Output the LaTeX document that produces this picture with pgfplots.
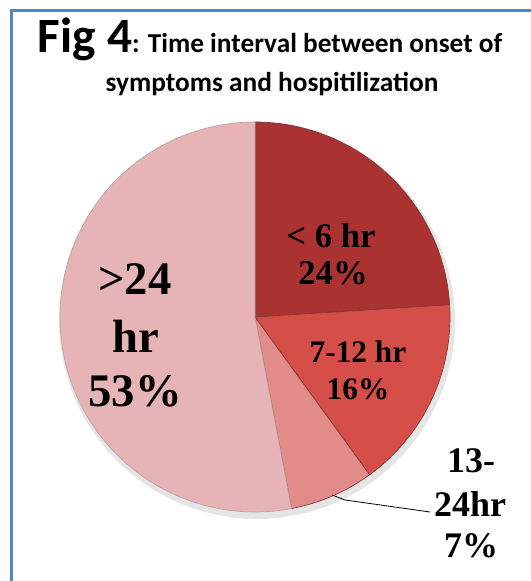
\documentclass[border=0pt]{standalone}
\usepackage{pgfplots}
\pgfplotsset{compat=1.18}
\usepackage{fontspec}
\setmainfont{Liberation Serif}
\newfontfamily\titlefont{Carlito}

\definecolor{frameblue}{RGB}{74,134,200}
\definecolor{sliceA}{RGB}{170,50,49}
\definecolor{sliceB}{RGB}{214,78,72}
\definecolor{sliceC}{RGB}{226,140,138}
\definecolor{sliceD}{RGB}{230,180,182}
\definecolor{sliceedge}{RGB}{125,55,55}

% shares (percent), clockwise from twelve o'clock
\def\vA{24}  % < 6 hr
\def\vB{16}  % 7-12 hr
\def\vC{7}   % 13-24 hr
\def\vD{53}  % > 24 hr

% pie centre and radius in axis units
\def\cx{255}
\def\cy{264}
\def\R{195}

\pgfmathsetmacro{\aA}{90}
\pgfmathsetmacro{\aB}{\aA-3.6*\vA}
\pgfmathsetmacro{\aC}{\aB-3.6*\vB}
\pgfmathsetmacro{\aD}{\aC-3.6*\vC}
\pgfmathsetmacro{\aE}{\aD-3.6*\vD}

\begin{document}
\begin{tikzpicture}
\begin{axis}[
  width=398.25pt, height=435.75pt, scale only axis,
  xmin=0, xmax=531, ymin=0, ymax=581,
  enlargelimits=false,
  axis lines=none, clip=false,
]
% soft shadow under the pie
\addplot[draw=none, fill=black, fill opacity=0.10, domain=0:360, samples=120, variable=\t]
  ({\cx+2+(\R+3)*cos(\t)}, {\cy-4+(\R+3)*sin(\t)}) -- cycle;

% slices
\addplot[fill=sliceA, draw=sliceedge, line width=0.5pt, domain=\aB:\aA, samples=80, variable=\t]
  ({\cx+\R*cos(\t)}, {\cy+\R*sin(\t)}) -- (axis cs:\cx,\cy) -- cycle;
\addplot[fill=sliceB, draw=sliceedge, line width=0.5pt, domain=\aC:\aB, samples=60, variable=\t]
  ({\cx+\R*cos(\t)}, {\cy+\R*sin(\t)}) -- (axis cs:\cx,\cy) -- cycle;
\addplot[fill=sliceC, draw=sliceedge, line width=0.5pt, domain=\aD:\aC, samples=30, variable=\t]
  ({\cx+\R*cos(\t)}, {\cy+\R*sin(\t)}) -- (axis cs:\cx,\cy) -- cycle;
\addplot[fill=sliceD, draw=sliceD!60!gray, line width=0.5pt, domain=\aE:\aD, samples=160, variable=\t]
  ({\cx+\R*cos(\t)}, {\cy+\R*sin(\t)}) -- (axis cs:\cx,\cy) -- cycle;

% leader line for the small slice
\addplot[black, line width=0.6pt] coordinates {(332,86) (345,81) (430,69)};

% title
\node[anchor=base, inner sep=0pt] at (axis cs:270,528)
  {\titlefont\bfseries{\fontsize{37}{40}\selectfont Fig 4}{\fontsize{20.5}{24}\selectfont: Time interval between onset of}};
\node[anchor=base, inner sep=0pt] at (axis cs:272,489)
  {\titlefont\bfseries\fontsize{20.5}{24}\selectfont symptoms and hospitilization};

% slice labels
\begin{scope}[every node/.style={anchor=base, inner sep=0pt, font=\bfseries}]
\node at (axis cs:331,333) {\fontsize{26}{28}\selectfont < 6 hr};
\node at (axis cs:333,296) {\fontsize{26}{28}\selectfont 24\%};
\node at (axis cs:358,218) {\fontsize{23.5}{26}\selectfont 7-12 hr};
\node at (axis cs:358,181) {\fontsize{23.5}{26}\selectfont 16\%};
\node at (axis cs:471,108) {\fontsize{27}{30}\selectfont 13-};
\node at (axis cs:470,64)  {\fontsize{27}{30}\selectfont 24hr};
\node at (axis cs:471,23)  {\fontsize{27}{30}\selectfont 7\%};
\node at (axis cs:135,286) {\fontsize{35}{38}\selectfont >24};
\node at (axis cs:136,228) {\fontsize{35}{38}\selectfont hr};
\node at (axis cs:135,174) {\fontsize{35}{38}\selectfont 53\%};
\end{scope}
\end{axis}
% frame along the top and left edges
\draw[frameblue, line width=2.25pt] (398.25pt,427.5pt) -- (8.25pt,427.5pt) -- (8.25pt,0pt);
\pgfresetboundingbox
\path (0,0) rectangle (398.25pt,435.75pt);
\end{tikzpicture}
\end{document}
